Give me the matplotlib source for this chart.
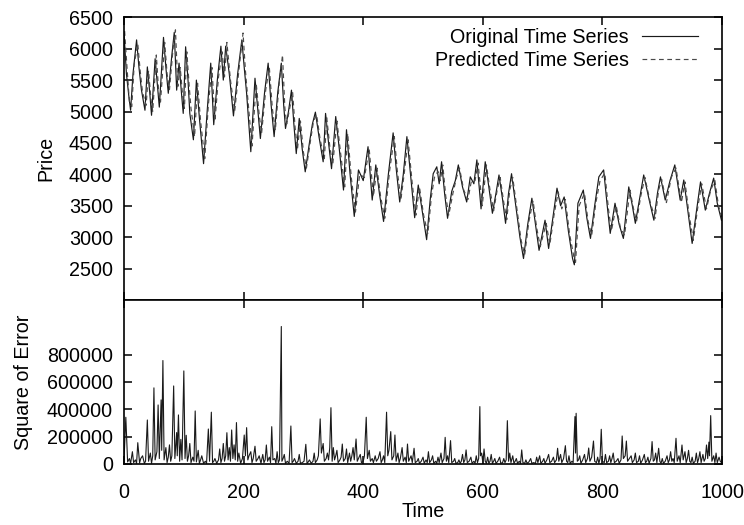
import matplotlib
matplotlib.use("Agg")
import matplotlib.pyplot as plt

plt.rcParams['font.family'] = ['Liberation Sans', 'DejaVu Sans']
plt.rcParams['font.size'] = 14.2

# ---------------------------
# DATA
# ---------------------------
orig_time = [0, 4, 8, 11, 15, 21, 25, 29, 35, 39, 43, 46, 52, 56, 59, 66, 70, 74, 80, 84,
             88, 92, 96, 99, 103, 107, 110, 116, 121, 126, 133, 139, 145, 150, 156, 162, 166, 170, 176, 183,
             190, 197, 201, 205, 212, 219, 224, 228, 235, 241, 246, 251, 257, 263, 267, 270, 275, 280, 284, 288,
             293, 298, 303, 310, 315, 320, 326, 333, 337, 342, 347, 354, 360, 367, 372, 378, 385, 392, 400, 408,
             415, 421, 427, 434, 442, 450, 455, 461, 467, 473, 480, 486, 492, 499, 506, 512, 517, 523, 527, 531,
             536, 541, 548, 554, 559, 566, 573, 579, 585, 590, 597, 604, 610, 616, 622, 627, 633, 638, 643, 648,
             655, 662, 668, 675, 682, 688, 694, 704, 710, 717, 724, 730, 736, 743, 750, 753, 759, 768, 774, 780,
             787, 794, 802, 808, 813, 821, 828, 835, 844, 850, 855, 862, 869, 878, 886, 892, 897, 905, 913, 921,
             930, 936, 943, 950, 957, 964, 972, 979, 986, 992, 999]
orig_price = [6250, 5600, 5250, 5020, 5600, 6140, 5700, 5350, 5020, 5710, 5300, 4940, 5840, 5400, 5070, 6180, 5700, 5290, 5900, 6260,
              5340, 5770, 5300, 4970, 6030, 5500, 4970, 4550, 5500, 4900, 4170, 5000, 5770, 4790, 5500, 6040, 5500, 6040, 5600, 4930,
              5600, 6140, 5700, 5290, 4360, 5530, 5000, 4570, 5300, 5770, 5100, 4600, 5300, 5770, 5100, 4730, 5000, 5340, 4800, 4330,
              4890, 4400, 4040, 4500, 4800, 4990, 4600, 4200, 4970, 4500, 4090, 4920, 4400, 3750, 4710, 4000, 3330, 4070, 3900, 4440,
              3590, 4150, 3700, 3250, 4000, 4660, 4100, 3560, 4000, 4600, 3900, 3310, 3830, 3400, 2960, 3600, 4010, 4120, 3850, 4200,
              3700, 3300, 3730, 3900, 4150, 3800, 3560, 3960, 3850, 4230, 3450, 4200, 3800, 3380, 3700, 3990, 3600, 3220, 3700, 4010,
              3500, 3000, 2660, 3200, 3620, 3200, 2790, 3270, 2820, 3300, 3780, 3500, 3640, 3100, 2660, 2560, 3540, 3750, 3300, 2980,
              3500, 3960, 4070, 3500, 3060, 3540, 3200, 2980, 3800, 3500, 3220, 3600, 3990, 3600, 3270, 3700, 3960, 3590, 3900, 4150,
              3590, 3910, 3400, 2900, 3400, 3880, 3430, 3700, 3940, 3540, 3270]

pred_time = [1, 5, 9, 13, 17, 23, 27, 31, 37, 41, 45, 48, 54, 58, 61, 68, 72, 76, 82, 86,
             90, 94, 98, 101, 105, 109, 112, 118, 123, 128, 135, 141, 147, 152, 158, 164, 168, 172, 178, 185,
             192, 199, 203, 207, 214, 221, 226, 230, 237, 243, 248, 253, 259, 265, 269, 272, 277, 282, 286, 290,
             295, 300, 305, 312, 317, 322, 328, 335, 339, 344, 349, 356, 362, 369, 374, 380, 387, 394, 402, 410,
             417, 423, 429, 436, 444, 452, 457, 463, 469, 475, 482, 488, 494, 501, 508, 514, 519, 525, 529, 533,
             538, 543, 550, 556, 561, 568, 575, 581, 587, 592, 599, 606, 612, 618, 624, 629, 635, 640, 645, 650,
             657, 664, 670, 677, 684, 690, 696, 706, 712, 719, 726, 732, 738, 745, 752, 755, 761, 770, 776, 782,
             789, 796, 804, 810, 815, 823, 830, 837, 846, 852, 857, 864, 871, 880, 888, 894, 899, 907, 915, 923,
             932, 938, 945, 952, 959, 966, 974, 981, 988, 994, 1000]
pred_price = [6280, 5700, 5150, 5080, 5750, 6080, 5650, 5300, 5100, 5650, 5200, 5000, 5900, 5300, 5150, 6100, 5600, 5350, 6000, 6300,
              5400, 5700, 5250, 5050, 5950, 5400, 5050, 4600, 5450, 4850, 4250, 5100, 5700, 4850, 5550, 5950, 5550, 6100, 5500, 5000,
              5650, 6250, 5650, 5200, 4450, 5450, 4950, 4650, 5350, 5700, 5050, 4700, 5400, 5900, 5050, 4800, 5050, 5300, 4750, 4400,
              4850, 4350, 4100, 4550, 4850, 4950, 4550, 4250, 4900, 4450, 4150, 4850, 4350, 3800, 4650, 3950, 3400, 4000, 3950, 4400,
              3650, 4100, 3650, 3300, 4050, 4600, 4050, 3600, 4050, 4550, 3850, 3350, 3800, 3350, 3050, 3650, 3950, 4050, 3900, 4150,
              3650, 3350, 3700, 3950, 4100, 3750, 3600, 3900, 3900, 4180, 3500, 4150, 3750, 3420, 3750, 3950, 3550, 3280, 3750, 3950,
              3450, 2950, 2720, 3250, 3580, 3150, 2850, 3220, 2880, 3350, 3720, 3450, 3600, 3050, 2700, 2600, 3500, 3700, 3250, 3030,
              3550, 3900, 4020, 3450, 3100, 3500, 3150, 3030, 3750, 3450, 3250, 3650, 3950, 3550, 3300, 3750, 3920, 3550, 3950, 4100,
              3550, 3880, 3350, 2950, 3450, 3850, 3450, 3750, 3900, 3500, 3300]

err_time = [0, 3, 6, 9, 11, 14, 16, 19, 21, 23, 26, 28, 31, 34, 36, 39, 41, 44, 46, 48,
            50, 52, 55, 57, 59, 62, 63, 65, 67, 70, 72, 74, 76, 78, 80, 83, 85, 88, 89, 91,
            93, 95, 97, 100, 102, 104, 106, 108, 110, 112, 115, 117, 119, 121, 124, 126, 128, 130, 133, 136,
            138, 141, 143, 146, 148, 150, 152, 155, 158, 160, 162, 164, 166, 168, 170, 172, 174, 176, 178, 180,
            182, 184, 186, 188, 190, 192, 195, 198, 201, 203, 205, 207, 209, 212, 214, 216, 219, 221, 224, 226,
            229, 232, 234, 236, 238, 240, 243, 245, 247, 249, 252, 254, 256, 258, 260, 263, 264, 266, 268, 270,
            273, 276, 279, 281, 283, 285, 288, 291, 293, 295, 298, 301, 304, 306, 308, 310, 313, 316, 318, 320,
            323, 325, 328, 330, 333, 335, 338, 340, 342, 344, 346, 348, 350, 352, 354, 356, 358, 361, 363, 365,
            367, 370, 372, 374, 377, 379, 381, 383, 385, 388, 390, 392, 395, 397, 400, 402, 405, 407, 410, 412,
            415, 417, 420, 422, 425, 428, 430, 432, 434, 436, 439, 441, 443, 446, 448, 451, 453, 455, 458, 460,
            462, 465, 467, 470, 472, 474, 476, 478, 480, 482, 485, 487, 490, 492, 494, 497, 500, 502, 505, 507,
            509, 511, 514, 516, 518, 521, 523, 525, 527, 530, 532, 535, 537, 539, 541, 543, 546, 548, 551, 553,
            555, 558, 560, 562, 564, 566, 568, 570, 572, 574, 577, 580, 582, 585, 587, 589, 591, 593, 595, 596,
            598, 600, 602, 604, 606, 608, 610, 612, 614, 616, 618, 620, 622, 625, 628, 630, 633, 635, 637, 639,
            641, 643, 645, 647, 650, 652, 654, 656, 658, 661, 663, 665, 667, 670, 672, 674, 677, 680, 682, 685,
            688, 690, 692, 695, 697, 700, 702, 704, 707, 710, 712, 715, 718, 720, 723, 725, 727, 730, 732, 735,
            738, 740, 742, 744, 746, 749, 751, 754, 755, 756, 758, 760, 762, 764, 767, 770, 772, 775, 777, 779,
            782, 785, 787, 790, 792, 794, 796, 798, 800, 803, 805, 807, 810, 812, 814, 816, 818, 820, 823, 826,
            828, 831, 833, 835, 838, 840, 842, 845, 848, 850, 853, 855, 857, 860, 862, 864, 867, 870, 872, 874,
            876, 878, 881, 883, 885, 887, 889, 891, 894, 896, 898, 900, 902, 905, 908, 910, 912, 914, 916, 918,
            920, 923, 925, 928, 930, 933, 935, 938, 940, 942, 944, 946, 948, 950, 952, 955, 957, 959, 961, 963,
            965, 968, 970, 972, 974, 976, 978, 979, 981, 983, 986, 988, 990, 992, 995, 997, 999]
err_value = [30000, 342000, 15000, 40000, 5000, 90000, 10000, 30000, 5000, 156000, 8000, 40000, 60000, 5000, 20000, 322000, 20000, 80000, 5000, 60000,
             557000, 30000, 90000, 432000, 40000, 469000, 100000, 757000, 30000, 120000, 10000, 50000, 140000, 20000, 60000, 571000, 40000, 230000, 60000, 359000,
             20000, 180000, 30000, 681000, 40000, 210000, 20000, 60000, 150000, 10000, 50000, 20000, 388000, 15000, 100000, 5000, 30000, 60000, 5000, 20000,
             5000, 256000, 20000, 379000, 10000, 20000, 40000, 5000, 30000, 110000, 10000, 40000, 150000, 20000, 60000, 229000, 30000, 120000, 20000, 249000,
             40000, 140000, 30000, 303000, 20000, 80000, 5000, 40000, 212000, 60000, 266000, 30000, 60000, 90000, 10000, 40000, 130000, 20000, 40000, 60000,
             5000, 70000, 10000, 30000, 139000, 20000, 50000, 10000, 273000, 30000, 40000, 5000, 90000, 10000, 30000, 1006000, 20000, 40000, 70000, 5000,
             20000, 5000, 278000, 10000, 20000, 40000, 5000, 20000, 70000, 5000, 10000, 20000, 144000, 5000, 15000, 30000, 5000, 20000, 80000, 10000,
             30000, 60000, 330000, 80000, 150000, 20000, 40000, 80000, 30000, 120000, 412000, 20000, 120000, 30000, 60000, 100000, 10000, 30000, 50000, 146000,
             20000, 40000, 110000, 10000, 80000, 20000, 60000, 120000, 30000, 183000, 20000, 40000, 70000, 10000, 20000, 60000, 342000, 40000, 100000, 20000,
             40000, 10000, 60000, 20000, 40000, 90000, 10000, 30000, 60000, 10000, 379000, 60000, 100000, 237000, 30000, 60000, 212000, 20000, 80000, 10000,
             40000, 120000, 20000, 50000, 10000, 146000, 20000, 40000, 60000, 10000, 115000, 10000, 20000, 40000, 5000, 20000, 50000, 5000, 30000, 10000,
             90000, 10000, 30000, 60000, 5000, 20000, 5000, 50000, 10000, 80000, 10000, 40000, 195000, 20000, 60000, 10000, 171000, 10000, 20000, 40000,
             5000, 10000, 30000, 5000, 20000, 70000, 10000, 30000, 103000, 10000, 20000, 50000, 5000, 20000, 5000, 60000, 10000, 40000, 420000, 60000,
             80000, 10000, 110000, 20000, 5000, 50000, 5000, 20000, 70000, 5000, 20000, 40000, 5000, 20000, 50000, 5000, 10000, 40000, 10000, 30000,
             317000, 20000, 80000, 10000, 60000, 5000, 20000, 40000, 5000, 20000, 5000, 103000, 10000, 5000, 30000, 5000, 15000, 40000, 5000, 10000,
             5000, 50000, 10000, 60000, 5000, 20000, 40000, 5000, 30000, 70000, 10000, 20000, 50000, 10000, 30000, 115000, 20000, 70000, 10000, 40000,
             134000, 20000, 10000, 60000, 5000, 20000, 10000, 347000, 80000, 371000, 20000, 30000, 60000, 5000, 30000, 70000, 10000, 40000, 117000, 20000,
             50000, 168000, 20000, 10000, 50000, 5000, 40000, 254000, 20000, 10000, 70000, 10000, 20000, 60000, 10000, 40000, 80000, 10000, 20000, 40000,
             5000, 30000, 205000, 40000, 60000, 168000, 20000, 40000, 60000, 10000, 30000, 80000, 10000, 20000, 60000, 5000, 30000, 70000, 10000, 20000,
             50000, 5000, 40000, 164000, 20000, 30000, 80000, 10000, 115000, 20000, 5000, 40000, 5000, 20000, 60000, 10000, 30000, 90000, 20000, 40000,
             10000, 188000, 20000, 60000, 10000, 139000, 30000, 90000, 10000, 40000, 100000, 20000, 10000, 50000, 5000, 20000, 80000, 10000, 40000, 90000,
             10000, 70000, 20000, 40000, 139000, 40000, 160000, 60000, 354000, 20000, 60000, 10000, 80000, 10000, 50000, 20000, 10000]

x_ticks = [0, 200, 400, 600, 800, 1000]
price_ticks = [2500, 3000, 3500, 4000, 4500, 5000, 5500, 6000, 6500]
err_ticks = [0, 200000, 400000, 600000, 800000]

# ---------------------------
# FIGURE
# ---------------------------
fig = plt.figure(figsize=(7.44, 5.25), dpi=100)
ax1 = fig.add_axes([0.1667, 0.4286, 0.8038, 0.5385])
ax2 = fig.add_axes([0.1667, 0.1162, 0.8038, 0.3124])

ax1.plot(orig_time, orig_price, color='#1a1a1a', lw=0.85, label='Original Time Series')
ax1.plot(pred_time, pred_price, color='#4a4a4a', lw=0.85, linestyle=(0, (4, 3)),
         label='Predicted Time Series')
ax1.set_xlim(0, 1000)
ax1.set_ylim(2000, 6500)
ax1.set_xticks(x_ticks)
ax1.set_xticklabels([])
ax1.set_yticks(price_ticks)
ax1.set_ylabel('Price', labelpad=10)
ax1.legend(loc='upper right', bbox_to_anchor=(0.96, 0.962), frameon=False,
           markerfirst=False, borderaxespad=0, borderpad=0, handlelength=2.85,
           handletextpad=0.65, labelspacing=0.2)

ax2.plot(err_time, err_value, color='#1a1a1a', lw=0.8)
ax2.set_xlim(0, 1000)
ax2.set_ylim(0, 1200000)
ax2.set_xticks(x_ticks)
ax2.set_yticks(err_ticks)
ax2.set_xlabel('Time', labelpad=0)
ax2.set_ylabel('Square of Error', labelpad=10)

for ax in (ax1, ax2):
    for s in ax.spines.values():
        s.set_linewidth(1.2)
    ax.tick_params(direction='in', length=6, width=1.1, top=True, right=True,
                   labelsize=14.2, pad=8)
ax2.tick_params(axis='x', pad=14)

fig.savefig('out.png', dpi=100)
